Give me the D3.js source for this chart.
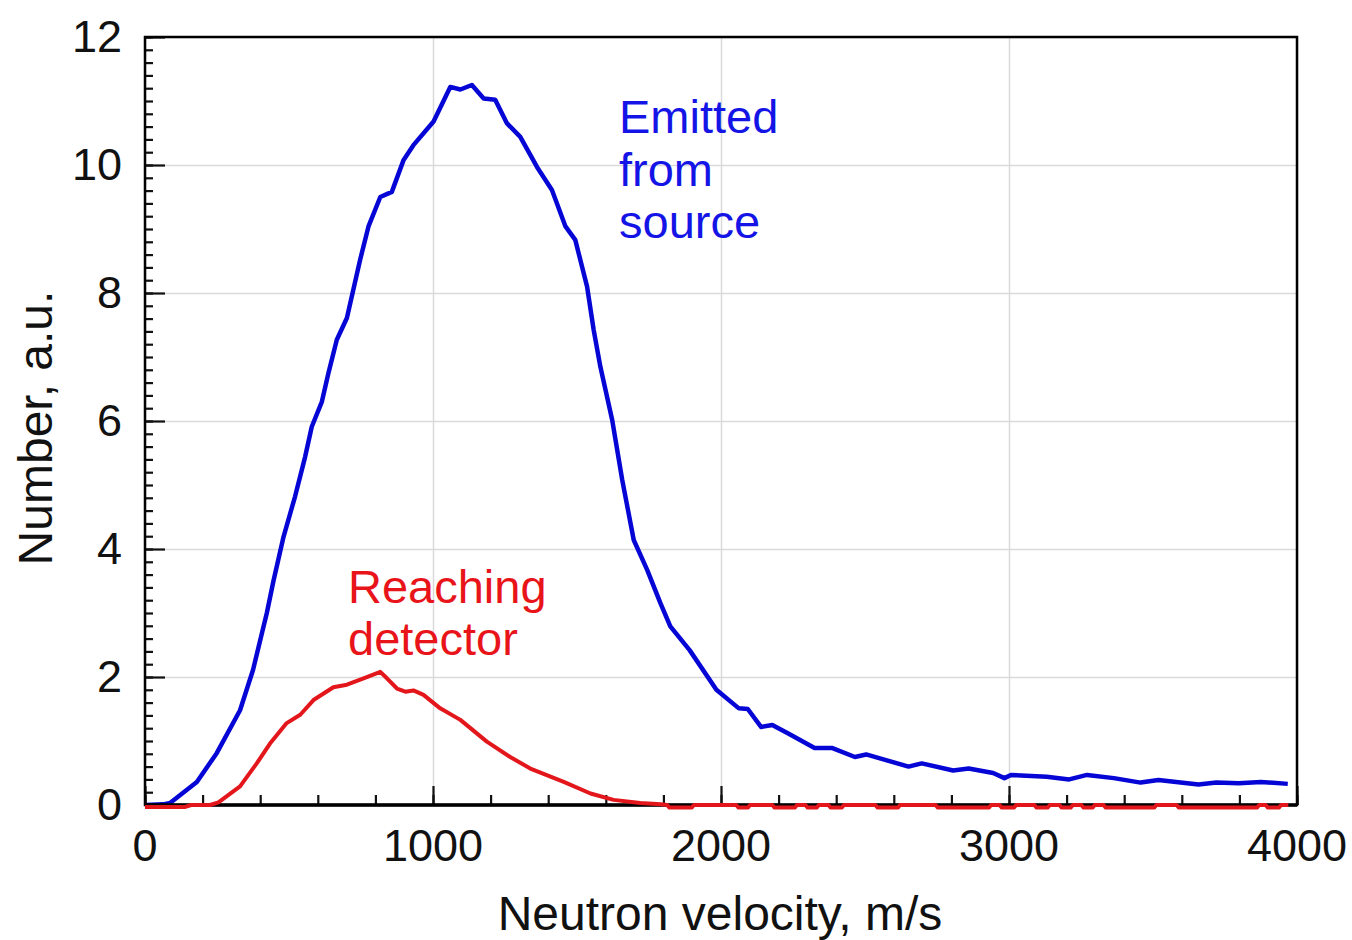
<!DOCTYPE html>
<html>
<head>
<meta charset="utf-8">
<script src="https://cdn.jsdelivr.net/npm/d3@7"></script>
<style>
  body { margin: 0; background: #fff; }
  svg { display: block; font-family: "Liberation Sans", Arial, sans-serif; }
  .grid line { stroke: #dadada; stroke-width: 1.5; }
  .grid path { display: none; }
  .ticks path { display: none; }
  .ticks line { stroke: #111; stroke-width: 2.2; }
</style>
</head>
<body>
<div id="chart"></div>
<script>
// neutron velocity spectrum: emitted vs reaching detector

// [velocity m/s, number a.u.]
const emitted = [
  [0, 0], [63, 0.01], [87, 0.03], [180, 0.36], [249, 0.81], [330, 1.48],
  [375, 2.11], [423, 3.0], [446, 3.5], [481, 4.19], [521, 4.82], [556, 5.44],
  [579, 5.91], [614, 6.30], [637, 6.75], [666, 7.27], [701, 7.61], [747, 8.52],
  [776, 9.04], [817, 9.50], [857, 9.58], [898, 10.08], [932, 10.31], [1002, 10.68],
  [1060, 11.22], [1095, 11.18], [1135, 11.25], [1176, 11.04], [1216, 11.02],
  [1257, 10.65], [1303, 10.44], [1361, 9.97], [1413, 9.61], [1460, 9.04],
  [1494, 8.83], [1535, 8.10], [1558, 7.42], [1581, 6.85], [1622, 6.02],
  [1657, 5.08], [1697, 4.14], [1744, 3.67], [1790, 3.15], [1824, 2.79],
  [1891, 2.42], [1984, 1.80], [2062, 1.51], [2093, 1.50], [2139, 1.22],
  [2178, 1.25], [2232, 1.12], [2325, 0.89], [2387, 0.89], [2465, 0.75],
  [2504, 0.79], [2573, 0.70], [2651, 0.60], [2697, 0.65], [2806, 0.54],
  [2860, 0.57], [2945, 0.50], [2984, 0.42], [3007, 0.47], [3131, 0.44],
  [3209, 0.40], [3271, 0.47], [3364, 0.42], [3457, 0.35], [3519, 0.39],
  [3596, 0.35], [3658, 0.32], [3720, 0.35], [3798, 0.34], [3875, 0.36],
  [3968, 0.33]
];

const reaching = [
  [0, -0.03], [140, -0.03], [160, 0], [226, 0], [255, 0.04], [330, 0.29],
  [388, 0.65], [434, 0.96], [492, 1.28], [539, 1.41], [585, 1.64], [654, 1.84],
  [701, 1.88], [759, 1.98], [817, 2.08], [840, 1.98], [875, 1.82], [904, 1.77],
  [932, 1.79], [967, 1.72], [1025, 1.51], [1095, 1.33], [1187, 0.99],
  [1268, 0.75], [1338, 0.57], [1454, 0.36], [1547, 0.18], [1627, 0.08],
  [1720, 0.03], [1790, 0.01],
  // tail sits on the axis, dipping just below it here and there
  [1813, 0], [1821, -0.04], [1898, -0.04], [1906, 0],
  [2053, 0], [2061, -0.04], [2093, -0.04], [2101, 0],
  [2178, 0], [2186, -0.04], [2256, -0.04], [2264, 0],
  [2293, 0], [2301, -0.04], [2332, -0.04], [2340, 0],
  [2373, 0], [2381, -0.04], [2419, -0.04], [2427, 0],
  [2536, 0], [2544, -0.04], [2614, -0.04], [2622, 0],
  [2745, 0], [2753, -0.04], [2930, -0.04], [2938, 0],
  [2967, 0], [2975, -0.04], [3017, -0.04], [3025, 0],
  [3088, 0], [3096, -0.04], [3134, -0.04], [3142, 0],
  [3175, 0], [3183, -0.04], [3214, -0.04], [3222, 0],
  [3251, 0], [3259, -0.04], [3290, -0.04], [3298, 0],
  [3328, 0], [3336, -0.04], [3504, -0.04], [3512, 0],
  [3582, 0], [3590, -0.04], [3861, -0.04], [3869, 0],
  [3891, 0], [3899, -0.04], [3937, -0.04], [3945, 0], [3970, 0]
];

const xTicks = [0, 1000, 2000, 3000, 4000];
const yTicks = [0, 2, 4, 6, 8, 10, 12];
const xMinor = d3.range(0, 4001, 200);
const yMinor = d3.range(0, 12.01, 0.2);

const W = 1352, H = 940;
const margin = {top: 37, right: 55, bottom: 135, left: 145};
const w = W - margin.left - margin.right,
      h = H - margin.top - margin.bottom;

const svg = d3.select('#chart').append('svg')
    .attr('width', W)
    .attr('height', H);

const g = svg.append('g')
    .attr('transform', `translate(${margin.left},${margin.top})`);

const x = d3.scaleLinear().domain([0, 4000]).range([0, w]);
const y = d3.scaleLinear().domain([0, 12]).range([h, 0]);

// grid
g.append('g').attr('class', 'grid')
  .attr('transform', `translate(0,${h})`)
  .call(d3.axisBottom(x).tickValues(xTicks).tickSize(-h).tickFormat(''));
g.append('g').attr('class', 'grid')
  .call(d3.axisLeft(y).tickValues(yTicks).tickSize(-w).tickFormat(''));

// curves
const line = d3.line()
    .x(d => x(d[0]))
    .y(d => y(d[1]));

g.append('path')
  .datum(emitted)
  .attr('fill', 'none')
  .attr('stroke', '#0505d6')
  .attr('stroke-width', 4.5)
  .attr('stroke-linejoin', 'round')
  .attr('d', line);

// minor + major inside ticks
g.append('g').attr('class', 'ticks')
  .attr('transform', `translate(0,${h})`)
  .call(d3.axisBottom(x).tickValues(xMinor).tickSize(-10).tickFormat(''));
g.append('g').attr('class', 'ticks')
  .attr('transform', `translate(0,${h})`)
  .call(d3.axisBottom(x).tickValues(xTicks).tickSize(-19).tickFormat(''));
g.append('g').attr('class', 'ticks')
  .call(d3.axisLeft(y).tickValues(yMinor).tickSize(-8).tickFormat(''));
g.append('g').attr('class', 'ticks')
  .call(d3.axisLeft(y).tickValues(yTicks).tickSize(-20).tickFormat(''));

// frame
g.append('rect')
  .attr('width', w)
  .attr('height', h)
  .attr('fill', 'none')
  .attr('stroke', '#000')
  .attr('stroke-width', 2.5);
g.append('line')
  .attr('x1', 0).attr('x2', w)
  .attr('y1', h).attr('y2', h)
  .attr('stroke', '#000').attr('stroke-width', 3.5);

g.append('path')
  .datum(reaching)
  .attr('fill', 'none')
  .attr('stroke', '#e3161b')
  .attr('stroke-width', 4)
  .attr('stroke-linejoin', 'round')
  .attr('d', line);

// tick labels
g.selectAll('.xlab')
  .data(xTicks)
  .enter().append('text')
  .attr('x', d => x(d))
  .attr('y', h + 56)
  .attr('text-anchor', 'middle')
  .attr('font-size', '45px')
  .attr('fill', '#111')
  .text(d => d);

g.selectAll('.ylab')
  .data(yTicks)
  .enter().append('text')
  .attr('x', -23)
  .attr('y', d => y(d) + 15)
  .attr('text-anchor', 'end')
  .attr('font-size', '45px')
  .attr('fill', '#111')
  .text(d => d);

// axis titles
svg.append('text')
  .attr('x', 720)
  .attr('y', 930)
  .attr('text-anchor', 'middle')
  .attr('font-size', '48px')
  .attr('fill', '#111')
  .text('Neutron velocity, m/s');

svg.append('text')
  .attr('transform', 'translate(52,428) rotate(-90)')
  .attr('text-anchor', 'middle')
  .attr('font-size', '48px')
  .attr('fill', '#111')
  .text('Number, a.u.');

// curve labels
const blueLab = svg.append('text')
  .attr('font-size', '47px')
  .attr('fill', '#1414e6');
['Emitted', 'from', 'source'].forEach((t, i) => {
  blueLab.append('tspan').attr('x', 619).attr('y', 133 + i * 52.5).text(t);
});

const redLab = svg.append('text')
  .attr('font-size', '47px')
  .attr('fill', '#e8141a');
['Reaching', 'detector'].forEach((t, i) => {
  redLab.append('tspan').attr('x', 348).attr('y', 603 + i * 52).text(t);
});
</script>
</body>
</html>
